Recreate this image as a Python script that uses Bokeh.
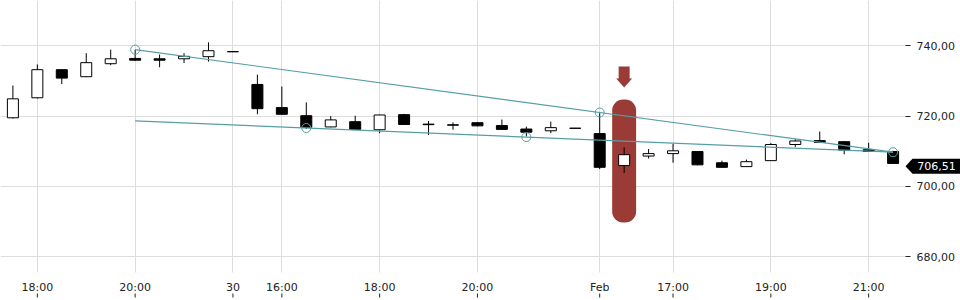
import numpy as np
from bokeh.plotting import figure
from bokeh.models import Range1d, FixedTicker, Label, BoxAnnotation, ColumnDataSource
from bokeh.embed import file_html
from bokeh.resources import INLINE

# ---- data (30-minute candles) ----
opens = [719.5, 725.2, 733.2, 731.2, 734.9, 736.4, 736.3, 736.3, 736.9, 738.35,
         729.0, 722.4, 720.1, 716.9, 718.4, 716.1, 720.4, 717.7, 717.5, 718.1,
         717.3, 716.3, 715.8, 716.55, 715.0, 705.9, 708.6, 709.3, 709.9, 706.7,
         705.6, 707.3, 711.9, 713.0, 712.7, 710.4, 709.9]
highs = [728.7, 734.7, 733.3, 737.9, 738.9, 738.9, 737.5, 737.9, 741.0, 738.4,
         731.8, 728.4, 723.9, 720.0, 720.1, 720.4, 720.6, 718.6, 718.2, 718.3,
         719.0, 717.0, 718.4, 716.6, 720.8, 711.1, 710.6, 712.1, 710.0, 707.3,
         707.6, 712.3, 713.4, 715.6, 712.9, 712.4, 710.1]
lows = [719.3, 725.0, 729.1, 731.1, 734.5, 735.7, 733.9, 735.1, 735.5, 738.25,
        720.5, 720.4, 716.3, 716.8, 716.0, 715.1, 717.5, 714.6, 716.1, 717.1,
        716.1, 714.2, 715.1, 716.45, 704.9, 703.8, 707.9, 706.7, 706.0, 705.3,
        705.5, 707.2, 711.2, 712.4, 709.1, 709.8, 706.4]
closes = [724.9, 733.2, 730.8, 735.2, 736.3, 735.9, 735.9, 737.0, 738.6, 738.3,
          722.1, 720.5, 716.8, 718.9, 716.2, 720.3, 717.6, 717.55, 717.4, 717.2,
          716.2, 715.4, 716.7, 716.5, 705.4, 709.0, 709.3, 710.1, 706.1, 705.4,
          707.0, 711.9, 712.9, 712.5, 710.3, 709.9, 706.51]

x_ticks = [1, 5, 9, 11, 15, 19, 24, 27, 31, 35]
x_tick_labels = ["18:00", "20:00", "30", "16:00", "18:00", "20:00", "Feb", "17:00", "19:00", "21:00"]
y_ticks = [680, 700, 720, 740]
y_tick_labels = ["680,00", "700,00", "720,00", "740,00"]

upper_trend_x = [5, 36]
upper_trend_y = [738.9, 709.7]
lower_trend_x = [5, 36]
lower_trend_y = [718.6, 709.7]
upper_anchor_x = [5, 24, 36]
lower_anchor_x = [12, 21]

highlight_index = 25
highlight_top = 724.7
highlight_bottom = 689.7
last_price = 706.51
last_price_label = "706,51"

# ---- styling / geometry ----
TEAL = "#559ea6"
RED = "#9a3b36"
INK = "#222222"
GRID = "#dddddd"
FONT = "DejaVu Sans"

W, H = 960, 300
SX = 24.45            # px per candle
SY = 3.512            # px per price unit
X0 = -0.507
X1 = X0 + W / SX
Y1 = 740 + 45.3 / SY
Y0 = Y1 - H / SY
X_EDGE = X0 + 905 / SX      # right edge of the price pane
Y_EDGE = Y1 - 272 / SY      # bottom edge of the price pane


def dx(px):
    return px / SX


def dy(px):
    return px / SY


p = figure(width=W, height=H, x_range=Range1d(X0, X1), y_range=Range1d(Y0, Y1),
           output_backend="svg", toolbar_location=None, y_axis_location="right",
           min_border=0)
p.outline_line_color = None
p.background_fill_color = "white"
p.border_fill_color = "white"

xa = p.xaxis[0]
xa.fixed_location = Y_EDGE
xa.ticker = FixedTicker(ticks=x_ticks)
xa.major_label_overrides = {t: l for t, l in zip(x_ticks, x_tick_labels)}
xa.major_tick_in = 0
xa.major_tick_out = 0
xa.major_tick_line_color = None
xa.minor_tick_line_color = None
xa.axis_line_color = None
xa.major_label_standoff = 8
xa.major_label_text_font = FONT
xa.major_label_text_font_size = "11px"
xa.major_label_text_color = INK

ya = p.yaxis[0]
ya.fixed_location = X_EDGE
ya.ticker = FixedTicker(ticks=y_ticks)
ya.major_label_overrides = {t: l for t, l in zip(y_ticks, y_tick_labels)}
ya.major_tick_in = 0
ya.major_tick_out = 5
ya.major_tick_line_color = INK
ya.minor_tick_line_color = None
ya.axis_line_color = None
ya.major_label_standoff = 6
ya.major_label_text_font = FONT
ya.major_label_text_font_size = "11px"
ya.major_label_text_color = INK

p.xgrid.grid_line_color = GRID
p.xgrid.cross_bounds = (Y_EDGE, Y1)
p.ygrid.grid_line_color = GRID
p.ygrid.cross_bounds = (X0, X_EDGE)

# small time ticks under the labels
p.segment(x0=x_ticks, y0=[Y_EDGE - dy(21)] * len(x_ticks), x1=x_ticks,
          y1=[Y_EDGE - dy(25)] * len(x_ticks), line_color=INK, line_width=1)

# ---- highlight box and arrow ----
box = BoxAnnotation(left=highlight_index - 0.49, right=highlight_index + 0.49,
                    top=highlight_top, bottom=highlight_bottom,
                    fill_color=RED, fill_alpha=1.0, line_color=None,
                    border_radius=11, level="underlay")
p.add_layout(box)

tip = highlight_top + dy(12)
head_base = tip + dy(9)
shaft_top = head_base + dy(12)
hx = highlight_index
arrow_xs = [hx - dx(5.5), hx + dx(5.5), hx + dx(5.5), hx + dx(8), hx, hx - dx(8), hx - dx(5.5)]
arrow_ys = [shaft_top, shaft_top, head_base, head_base, tip, head_base, head_base]
p.patch(arrow_xs, arrow_ys, fill_color=RED, line_color=None)

# ---- candles ----
idx = list(range(len(opens)))
up = [c >= o for o, c in zip(opens, closes)]
src = ColumnDataSource(dict(
    x=idx, o=opens, h=highs, l=lows, c=closes,
    top=[max(o, c) for o, c in zip(opens, closes)],
    bottom=[min(o, c) for o, c in zip(opens, closes)],
    fill=["white" if u else "black" for u in up],
))
p.segment(x0="x", y0="h", x1="x", y1="l", source=src, line_color="black", line_width=1)
p.vbar(x="x", top="top", bottom="bottom", width=0.45, source=src,
       fill_color="fill", line_color="black", line_width=1)

# ---- trendlines ----
p.line(upper_trend_x, upper_trend_y, line_color=TEAL, line_width=1.2)
p.line(lower_trend_x, lower_trend_y, line_color=TEAL, line_width=1.2)
ua_y = list(np.interp(upper_anchor_x, upper_trend_x, upper_trend_y))
la_y = list(np.interp(lower_anchor_x, lower_trend_x, lower_trend_y))
p.scatter(upper_anchor_x + lower_anchor_x, ua_y + la_y, marker="circle", size=9,
          fill_color=None, line_color=TEAL, line_width=1)

# ---- last price tag ----
tag_mid = last_price - dy(2.8)
tag_xs = [X_EDGE, X_EDGE + dx(7), X1, X1, X_EDGE + dx(7)]
tag_ys = [tag_mid, tag_mid + dy(7.5), tag_mid + dy(7.5),
          tag_mid - dy(7.5), tag_mid - dy(7.5)]
p.patch(tag_xs, tag_ys, fill_color="black", line_color=None)
lbl = Label(x=X_EDGE, y=tag_mid, x_offset=11.7, text=last_price_label, text_color="white",
            text_font=FONT, text_font_size="11px", text_baseline="middle")
p.add_layout(lbl)

open("out.html", "w").write(file_html(p, INLINE))
